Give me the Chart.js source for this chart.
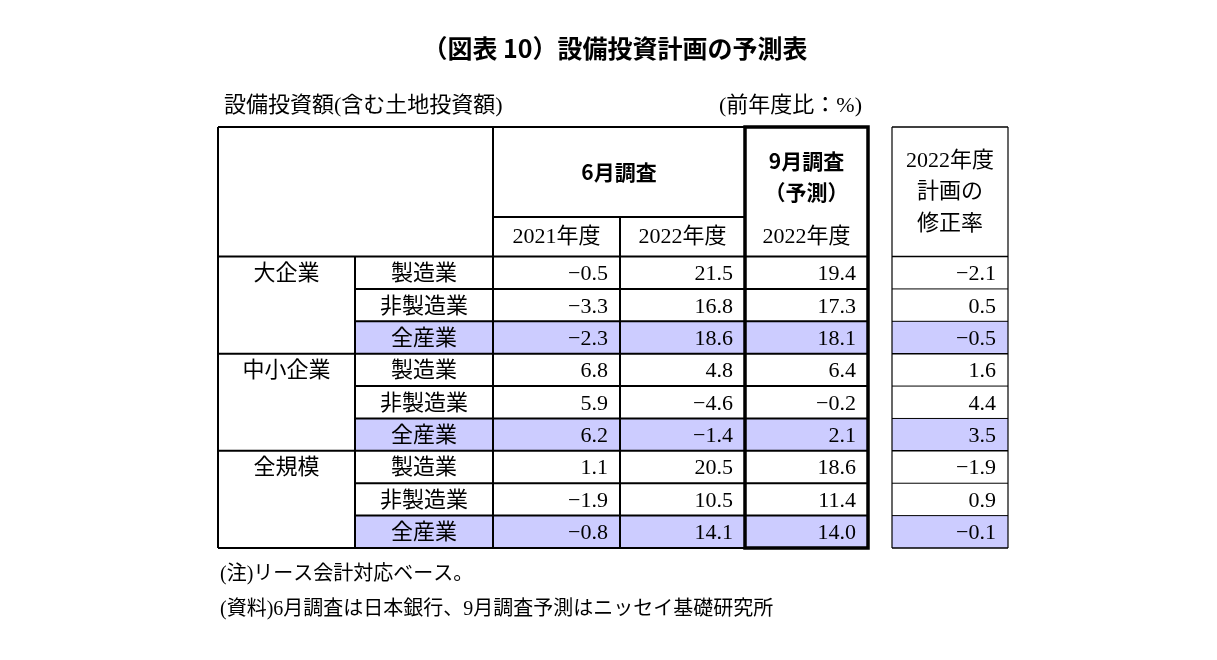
<!DOCTYPE html>
<html><head><meta charset="utf-8">
<script src="https://cdn.jsdelivr.net/npm/chart.js@4/dist/chart.umd.min.js"></script>
<style>html,body{margin:0;background:#fff}</style>
</head><body>
<canvas id="tbl" width="1217" height="660"></canvas>
<script>
const groups = ['大企業', '中小企業', '全規模'];
const industries = ['製造業', '非製造業', '全産業'];
const june2021 = [-0.5, -3.3, -2.3, 6.8, 5.9, 6.2, 1.1, -1.9, -0.8];
const june2022 = [21.5, 16.8, 18.6, 4.8, -4.6, -1.4, 20.5, 10.5, 14.1];
const sep2022 = [19.4, 17.3, 18.1, 6.4, -0.2, 2.1, 18.6, 11.4, 14.0];
const revision = [-2.1, 0.5, -0.5, 1.6, 4.4, 3.5, -1.9, 0.9, -0.1];

// column edges in x units, rows in y units (4 header rows, then 9 data rows)
const xEdges = [0, 137, 275, 402, 527, 650, 674, 790];
const HEAD = 4, SUB = 2.78;
const SERIF = '"Liberation Serif", "Noto Sans CJK JP"';
const GOTHIC = '"Noto Sans CJK JP"';
const fmt = v => v.toFixed(1).replace('-', '−');

const tablePlugin = {
  id: 'table',
  afterDraw(chart) {
    const c = chart.ctx, X = chart.scales.x, Y = chart.scales.y;
    const px = i => X.getPixelForValue(xEdges[i]);
    const py = r => Y.getPixelForValue(r);
    const line = (x1, y1, x2, y2, w) => {
      c.beginPath(); c.lineWidth = w; c.strokeStyle = '#000';
      c.moveTo(x1, y1); c.lineTo(x2, y2); c.stroke();
    };
    const text = (s, x, y, font, align) => {
      c.font = font; c.fillStyle = '#000'; c.textAlign = align || 'center';
      c.textBaseline = 'middle'; c.fillText(s, x, y);
    };
    c.save();
    // shading for 全産業 rows
    for (let i = 0; i < 9; i++) {
      if (i % 3 === 2) {
        c.fillStyle = '#CCCCFF';
        c.fillRect(px(1), py(HEAD + i), px(5) - px(1), py(HEAD + i + 1) - py(HEAD + i));
        c.fillRect(px(6), py(HEAD + i), px(7) - px(6), py(HEAD + i + 1) - py(HEAD + i));
      }
    }
    // horizontal lines
    for (let i = 0; i <= 9; i++) {
      const y = py(HEAD + i);
      const left = (i % 3 === 0) ? px(0) : px(1);
      line(left, y, px(5), y, 2);
      line(px(6), y, px(7), y, i % 3 === 0 ? 1.5 : 1);
    }
    line(px(0), py(0), px(5), py(0), 2);
    line(px(2), py(SUB), px(4), py(SUB), 2);
    line(px(6), py(0), px(7), py(0), 1.5);
    // vertical lines
    line(px(0), py(0), px(0), py(13), 2);
    line(px(1), py(HEAD), px(1), py(13), 2);
    line(px(2), py(0), px(2), py(13), 2);
    line(px(3), py(SUB), px(3), py(13), 2);
    c.lineWidth = 3.5; c.strokeStyle = '#000';
    c.strokeRect(px(4), py(0), px(5) - px(4), py(13) - py(0));
    line(px(6), py(0), px(6), py(13), 1.2);
    line(px(7), py(0), px(7), py(13), 1.2);
    // header texts
    const hb = 'bold 21px ' + GOTHIC;
    text('6月調査', (px(2) + px(4)) / 2, py(SUB / 2), hb);
    text('9月調査', (px(4) + px(5)) / 2, py(1.05), hb);
    text('（予測）', (px(4) + px(5)) / 2, py(2.0), hb);
    const f = '22px ' + SERIF;
    text('2021年度', (px(2) + px(3)) / 2, py(SUB + (HEAD - SUB) / 2), f);
    text('2022年度', (px(3) + px(4)) / 2, py(SUB + (HEAD - SUB) / 2), f);
    text('2022年度', (px(4) + px(5)) / 2, py(SUB + (HEAD - SUB) / 2), f);
    text('2022年度', (px(6) + px(7)) / 2, py(1.05), f);
    text('計画の', (px(6) + px(7)) / 2, py(2.0), f);
    text('修正率', (px(6) + px(7)) / 2, py(3.0), f);
    // body
    for (let i = 0; i < 9; i++) {
      const yc = py(HEAD + i + 0.55);
      if (i % 3 === 0) text(groups[i / 3], (px(0) + px(1)) / 2, yc, f);
      text(industries[i % 3], (px(1) + px(2)) / 2, yc, f);
      text(fmt(june2021[i]), px(3) - 12, yc, f, 'right');
      text(fmt(june2022[i]), px(4) - 12, yc, f, 'right');
      text(fmt(sep2022[i]), px(5) - 12, yc, f, 'right');
      text(fmt(revision[i]), px(7) - 12, yc, f, 'right');
    }
    // titles and notes
    text('（図表 10）設備投資計画の予測表', 615, 48, 'bold 25px ' + GOTHIC);
    text('設備投資額(含む土地投資額)', 224, 106, f, 'left');
    text('(前年度比：%)', 862, 106, f, 'right');
    text('(注)リース会計対応ベース。', 220, 575, '20px ' + SERIF, 'left');
    text('(資料)6月調査は日本銀行、9月調査予測はニッセイ基礎研究所', 220, 610, '20px ' + SERIF, 'left');
    c.restore();
  }
};

new Chart(document.getElementById('tbl'), {
  type: 'scatter',
  data: { datasets: [{ data: [] }] },
  options: {
    responsive: false,
    animation: false,
    layout: { padding: { left: 218, right: 209, top: 127, bottom: 112 } },
    plugins: { legend: { display: false }, tooltip: { enabled: false } },
    scales: {
      x: { type: 'linear', min: 0, max: xEdges[xEdges.length - 1], display: false },
      y: { type: 'linear', min: 0, max: HEAD + 9, reverse: true, display: false }
    }
  },
  plugins: [tablePlugin]
});
</script>
</body></html>
